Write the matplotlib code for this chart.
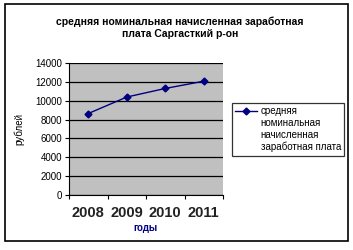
#!/usr/bin/env python3
"""Average nominal wage, Sargatsky district"""
import matplotlib
matplotlib.use('agg')
import matplotlib.pyplot as plt
from matplotlib.patches import Rectangle
from matplotlib.lines import Line2D

years = ['2008', '2009', '2010', '2011']
wages = [8640, 10390, 11300, 12070]
yticks = list(range(0, 14001, 2000))

TITLE = 'средняя номинальная начисленная заработная\nплата Саргасткий р-он'
SERIES_LINES = ['средняя', 'номинальная', 'начисленная', 'заработная плата']


def main():
    plt.rcParams['font.family'] = ['Liberation Sans', 'DejaVu Sans']
    fig = plt.figure(figsize=(3.53, 2.5), dpi=100)
    W, H = 353, 250

    # outer frame
    fig.patches.append(Rectangle((5 / W, 1 - 241 / H), 343 / W, 237 / H,
                                 transform=fig.transFigure, fill=False,
                                 edgecolor='black', linewidth=1.2))

    ax = fig.add_axes([69 / W, 1 - 195 / H, 154 / W, 132 / H])
    ax.set_facecolor('#c0c0c0')
    xs = range(len(years))
    line, = ax.plot(xs, wages, color='#000080', marker='D', markersize=3.5,
                    linewidth=1)
    ax.set_xlim(-0.5, len(years) - 0.5)
    ax.set_ylim(0, 14000)
    ax.set_yticks(yticks)
    ax.set_yticklabels([str(v) for v in yticks], fontsize=7)
    ax.yaxis.grid(True, color='black', linewidth=0.9)
    ax.set_axisbelow(True)
    ax.set_xticks([x + 0.5 for x in xs[:-1]] + [-0.5, len(years) - 0.5])
    ax.set_xticklabels([])
    ax.tick_params(axis='both', length=3, width=0.8, direction='out', pad=2)
    for i, yr in enumerate(years):
        ax.text(i, -1150, yr, ha='center', va='top', fontsize=10.5,
                fontweight='bold', color='#222222', clip_on=False)
    for s in ('top', 'right'):
        ax.spines[s].set_visible(False)
    ax.spines['left'].set_color('black')
    ax.spines['bottom'].set_color('black')

    ax.set_ylabel('рублей', fontsize=7, labelpad=8)
    fig.text(145 / W, 1 - 228 / H, 'годы', ha='center', va='center',
             fontsize=7, fontweight='bold', color='#000080')
    fig.text(180 / W, 1 - 28 / H, TITLE, ha='center', va='center',
             fontsize=7.5, fontweight='bold', linespacing=1.3)

    # marker sits on the first line of the label, as in the original
    blank = Line2D([], [], linestyle='none', marker='none')
    handles = [line] + [blank] * (len(SERIES_LINES) - 1)
    leg = fig.legend(handles=handles, labels=SERIES_LINES, loc='upper left',
                     bbox_to_anchor=(232 / W, 1 - 103 / H), fontsize=7,
                     frameon=True, fancybox=False, edgecolor='black',
                     borderpad=0.35, handlelength=2.2, handletextpad=0.4,
                     labelspacing=0.18, borderaxespad=0)
    leg.get_frame().set_linewidth(0.9)

    fig.savefig('out.png', dpi=100)


if __name__ == '__main__':
    main()
